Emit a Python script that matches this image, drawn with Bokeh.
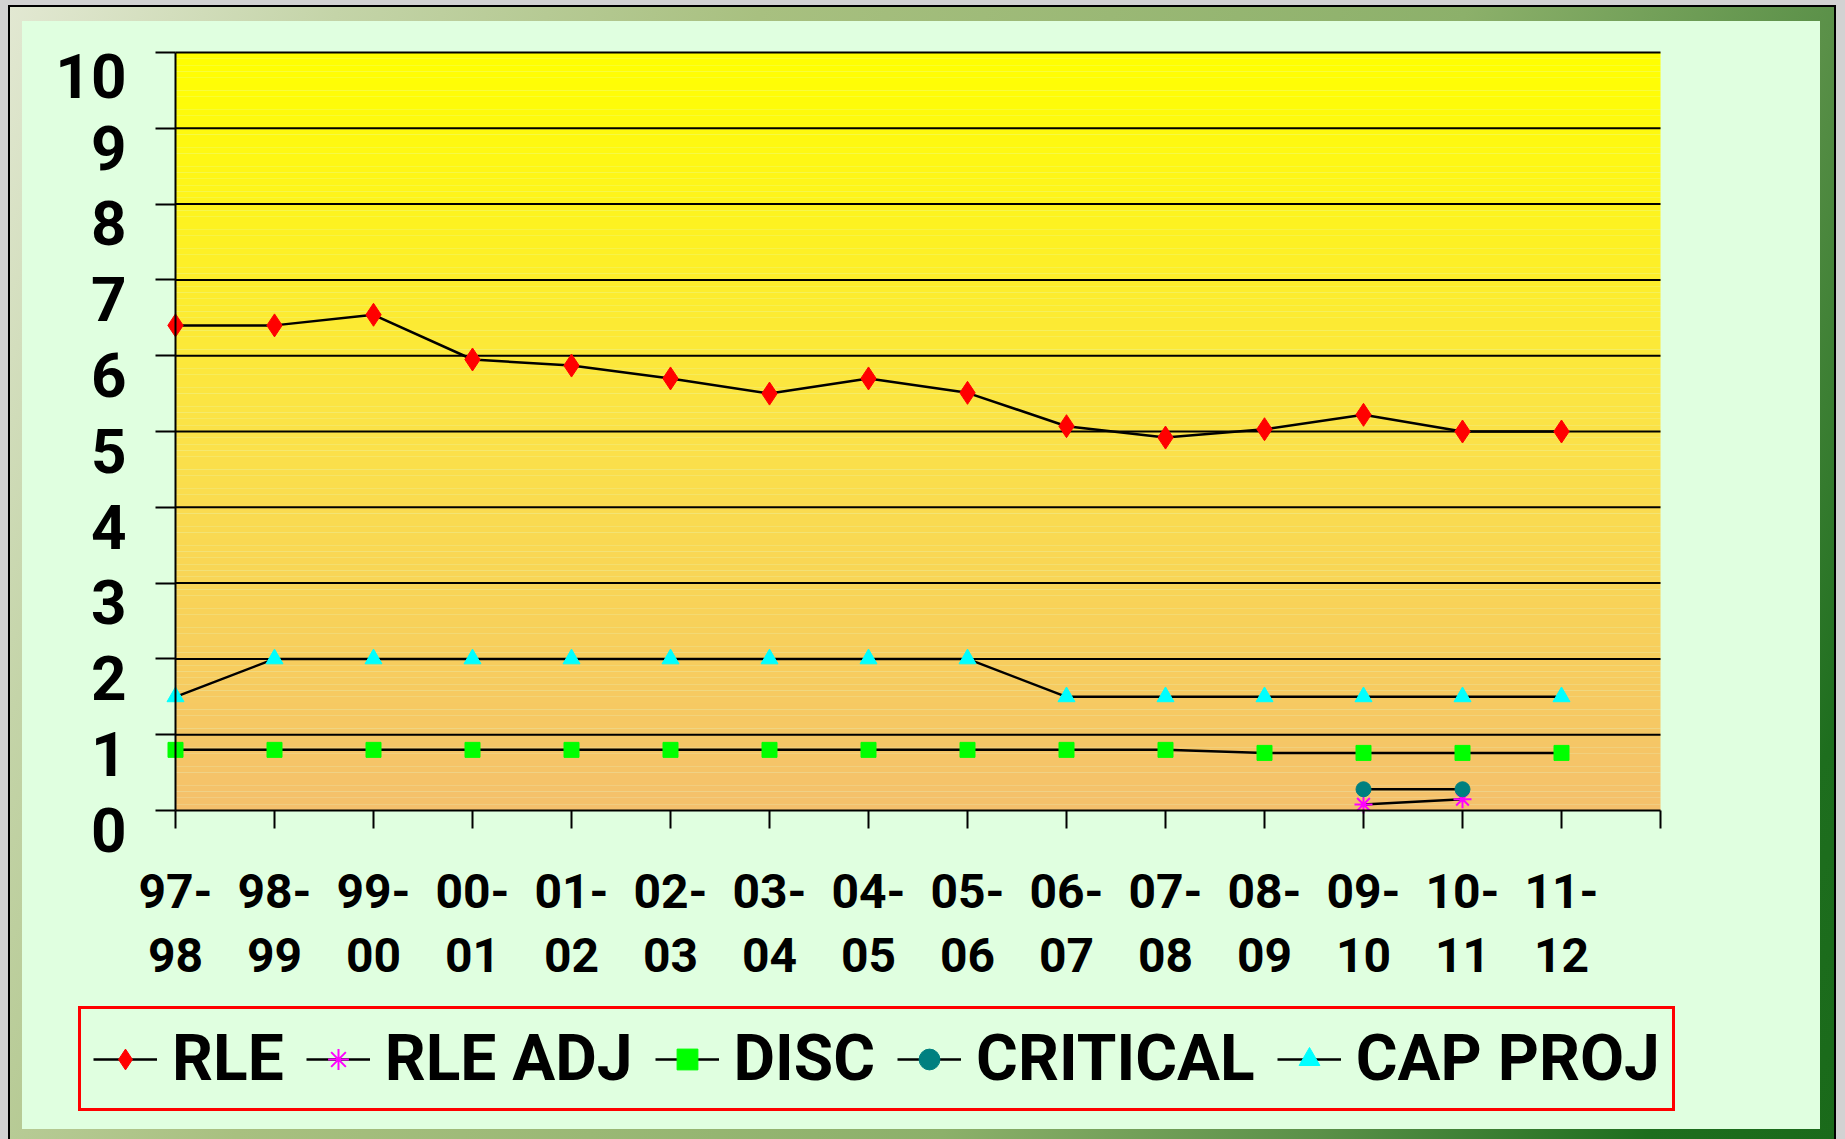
import numpy as np
from bokeh.plotting import figure
from bokeh.models import Range1d, FixedTicker, Legend, LegendItem, LinearAxis
from bokeh.embed import file_html
from bokeh.resources import INLINE

# ---------------- data ----------------
periods = ["97-98", "98-99", "99-00", "00-01", "01-02", "02-03", "03-04", "04-05",
           "05-06", "06-07", "07-08", "08-09", "09-10", "10-11", "11-12"]
rle = [6.40, 6.40, 6.54, 5.95, 5.87, 5.70, 5.50, 5.70, 5.51, 5.07, 4.92, 5.03, 5.22, 5.00, 5.00]
disc = [0.80, 0.80, 0.80, 0.80, 0.80, 0.80, 0.80, 0.80, 0.80, 0.80, 0.80, 0.76, 0.76, 0.76, 0.76]
cap_proj = [1.5, 2.0, 2.0, 2.0, 2.0, 2.0, 2.0, 2.0, 2.0, 1.5, 1.5, 1.5, 1.5, 1.5, 1.5]
short_periods = ["09-10", "10-11"]
critical = [0.28, 0.28]
rle_adj = [0.08, 0.15]
y_ticks = [0, 1, 2, 3, 4, 5, 6, 7, 8, 9, 10]
y_tick_labels = ["0", "1", "2", "3", "4", "5", "6", "7", "8", "9", "10"]
x_tick_labels = [s.replace("-", "-\n") for s in periods]
series_names = ["RLE", "RLE ADJ", "DISC", "CRITICAL", "CAP PROJ"]

FONT = "Roboto"

# ---------------- layout (pixels) ----------------
W, H = 1845, 1139
PL, PR, PT, PB = 175, 1660, 52, 810          # plot-area box on the canvas
NX = len(periods)                             # x axis runs 0 .. NX
YMAX = 10
px_x = (PR - PL) / NX
px_y = (PB - PT) / YMAX

xi = list(range(NX))
xs = [periods.index(s) for s in short_periods]

p = figure(width=W, height=H,
           x_range=Range1d(-PL / px_x, (W - PL) / px_x),
           y_range=Range1d(-(H - PB) / px_y, YMAX + PT / px_y),
           x_axis_type=None, y_axis_type=None, title_location=None,
           output_backend="svg", toolbar_location=None, min_border=0,
           border_fill_alpha=0, background_fill_alpha=0, outline_line_color=None)
p.styles = {
    "background":
        "linear-gradient(#e0ffe0, #e0ffe0) 22px 21px / 1798px 1108px no-repeat, "
        "linear-gradient(115deg, #e2e8d2 0%, #c4d4a8 14%, #a8c080 32%, #8cb06a 62%, #5a9048 78%, #1e6e1e 92%, #1a6a1a 100%) 10px 7px / 1824px 1132px no-repeat, "
        "linear-gradient(#000, #000) 8px 5px / 1828px 1134px no-repeat, "
        "#d2d2d2",
}

# vertical background gradient of the plot area
n = 120
edges = np.linspace(0, YMAX, n + 1)
top_c = np.array([255, 255, 0])
mid_c = np.array([251, 226, 72])
bot_c = np.array([244, 192, 108])
cols = []
for i in range(n):
    f = (edges[i] + edges[i + 1]) / 2 / YMAX  # 0 bottom .. 1 top
    if f >= 0.5:
        c = mid_c + (top_c - mid_c) * (f - 0.5) / 0.5
    else:
        c = bot_c + (mid_c - bot_c) * f / 0.5
    cols.append("#%02x%02x%02x" % tuple(int(round(v)) for v in c))
p.quad(left=0, right=NX, bottom=edges[:-1], top=edges[1:], fill_color=cols,
       line_color=None, level="image")

# horizontal grid lines, limited to the plot area
p.segment(x0=0, x1=NX, y0=y_ticks[1:], y1=y_ticks[1:], line_color="black", line_width=2,
          level="underlay")

# axes (fixed at the data origin)
xaxis = LinearAxis(fixed_location=0, bounds=(0, NX),
                   ticker=FixedTicker(ticks=list(range(NX + 1))))
xaxis.major_label_overrides = {i: lab for i, lab in enumerate(x_tick_labels)} | {NX: ""}
xaxis.major_label_text_font_size = "48px"
xaxis.major_label_text_line_height = 1.14
xaxis.major_label_standoff = 34
xaxis.major_tick_out = 18

yaxis = LinearAxis(fixed_location=0, bounds=(0, YMAX), ticker=FixedTicker(ticks=y_ticks))
# leading empty line pushes each label a little below its tick, as in the original
yaxis.major_label_overrides = {t: "\n" + lab for t, lab in zip(y_ticks, y_tick_labels)}
yaxis.major_label_text_font_size = "62px"
yaxis.major_label_text_line_height = 0.54
yaxis.major_label_standoff = 29
yaxis.major_tick_out = 20
for ax in (xaxis, yaxis):
    ax.major_tick_in = 0
    ax.axis_line_width = 2
    ax.axis_line_color = "black"
    ax.major_tick_line_width = 2
    ax.major_tick_line_color = "black"
    ax.minor_tick_line_color = None
    ax.major_label_text_font = FONT
    ax.major_label_text_font_style = "bold"
    ax.major_label_text_color = "black"
p.add_layout(xaxis, "below")
p.add_layout(yaxis, "left")

# series styles: (marker, size, fill, line)
styles = [("diamond", 23, "red", "red"),
          ("asterisk", 18, None, "#ff00ff"),
          ("square", 15, "#00ff00", "#00ff00"),
          ("circle", 15, "#008080", "#008080"),
          ("triangle", 17, "#00ffff", "#00ffff")]
series = [(xi, rle), (xs, rle_adj), (xi, disc), (xs, critical), (xi, cap_proj)]

lw = 2.5
items = []
for name, (x, y), (mk, sz, fc, lc) in zip(series_names, series, styles):
    rl = p.line(x, y, line_color="black", line_width=lw)
    rs = p.scatter(x, y, marker=mk, size=sz, fill_color=fc, line_color=lc,
                   line_width=2 if mk == "asterisk" else 1)
    items.append(LegendItem(label=name, renderers=[rl, rs]))

legend = Legend(items=items, orientation="horizontal", location=(78, H - 1111))
legend.label_text_font = FONT
legend.label_text_font_style = "bold"
legend.label_text_font_size = "64px"
legend.label_text_color = "black"
legend.glyph_width = 64
legend.glyph_height = 52
legend.label_standoff = 15
legend.spacing = 22
legend.padding = 12
legend.margin = 0
legend.border_line_color = "red"
legend.border_line_alpha = 1
legend.border_line_width = 3
legend.background_fill_alpha = 0
p.add_layout(legend)

open("out.html", "w").write(file_html(p, INLINE))
